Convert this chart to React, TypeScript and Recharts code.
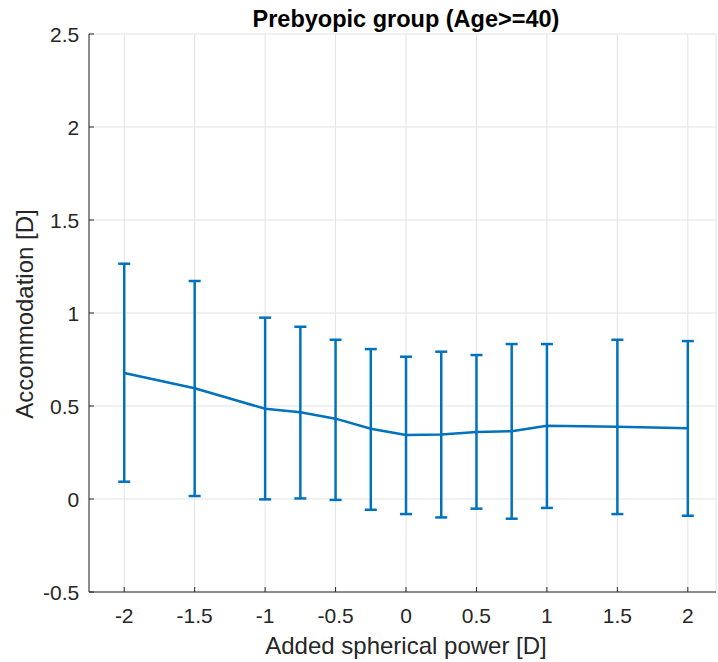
import React from 'react';
import {
  LineChart,
  Line,
  XAxis,
  YAxis,
  CartesianGrid,
  ErrorBar,
  Label,
} from 'recharts';

// added spherical power [D]
const powers = [-2, -1.5, -1, -0.75, -0.5, -0.25, 0, 0.25, 0.5, 0.75, 1, 1.5, 2];
// mean accommodation [D]
const means = [0.677, 0.595, 0.485, 0.466, 0.432, 0.378, 0.344, 0.347, 0.36, 0.364, 0.394, 0.389, 0.38];
// error bar ends
const lowers = [0.093, 0.016, -0.002, 0.003, -0.005, -0.058, -0.081, -0.099, -0.052, -0.106, -0.048, -0.081, -0.09];
const uppers = [1.265, 1.172, 0.975, 0.926, 0.856, 0.806, 0.765, 0.792, 0.774, 0.833, 0.833, 0.856, 0.849];

const xTicks = [-2, -1.5, -1, -0.5, 0, 0.5, 1, 1.5, 2];
const yTicks = [-0.5, 0, 0.5, 1, 1.5, 2, 2.5];

const data = powers.map((x, i) => ({
  x,
  y: means[i],
  err: [means[i] - lowers[i], uppers[i] - means[i]],
}));

const FONT = '"Liberation Sans", Arial, Helvetica, sans-serif';
const BLUE = '#0072BD';
const AXIS = '#262626';

function XTick(props: any) {
  const { x, y, payload } = props;
  const axisY = y - 10;
  return (
    <g>
      <line x1={x} x2={x} y1={axisY} y2={axisY - 5} stroke={AXIS} strokeWidth={1} />
      <text x={x} y={axisY + 30.7} textAnchor="middle" fill={AXIS} fontSize={21} fontFamily={FONT}>
        {payload.value}
      </text>
    </g>
  );
}

function YTick(props: any) {
  const { x, y, payload } = props;
  const axisX = x + 10;
  return (
    <g>
      <line x1={axisX} x2={axisX + 5} y1={y} y2={y} stroke={AXIS} strokeWidth={1} />
      <text x={axisX - 9.7} y={y + 8} textAnchor="end" fill={AXIS} fontSize={21} fontFamily={FONT}>
        {payload.value}
      </text>
    </g>
  );
}

export default function App() {
  return (
    <div style={{ position: 'absolute', left: 0, top: 0, width: 718, height: 662, background: '#fff' }}>
      <LineChart
        width={718}
        height={662}
        data={data}
        margin={{ top: 34, right: 2, bottom: 0, left: 0 }}
      >
        <CartesianGrid stroke="#e3e3e3" strokeWidth={1} />
        <XAxis
          type="number"
          dataKey="x"
          domain={[-2.25, 2.2]}
          ticks={xTicks}
          interval={0}
          height={70}
          tickSize={0}
          tickMargin={10}
          tick={<XTick />}
          stroke={AXIS}
          allowDataOverflow
        >
          <Label
            content={() => (
              <text x={406} y={654} textAnchor="middle" fill={AXIS} fontSize={24} fontFamily={FONT}>
                Added spherical power [D]
              </text>
            )}
          />
        </XAxis>
        <YAxis
          type="number"
          domain={[-0.5, 2.5]}
          ticks={yTicks}
          interval={0}
          width={89}
          tickSize={0}
          tickMargin={10}
          tick={<YTick />}
          stroke={AXIS}
        >
          <Label
            content={() => (
              <g>
                <text
                  x={33}
                  y={314}
                  transform="rotate(-90 33 314)"
                  textAnchor="middle"
                  fill={AXIS}
                  fontSize={24}
                  fontFamily={FONT}
                >
                  Accommodation [D]
                </text>
                <text
                  x={406}
                  y={27}
                  textAnchor="middle"
                  fill="#000"
                  fontSize={23.5}
                  fontWeight="bold"
                  fontFamily={FONT}
                >
                  Prebyopic group (Age&gt;=40)
                </text>
              </g>
            )}
          />
        </YAxis>
        <Line
          type="linear"
          dataKey="y"
          stroke={BLUE}
          strokeWidth={2.5}
          dot={false}
          isAnimationActive={false}
        >
          <ErrorBar dataKey="err" direction="y" width={6} stroke={BLUE} strokeWidth={2.5} isAnimationActive={false} />
        </Line>
      </LineChart>
    </div>
  );
}
